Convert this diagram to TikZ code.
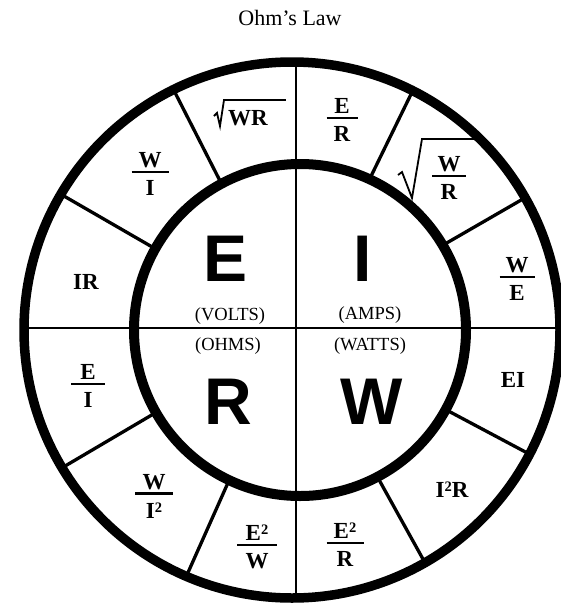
\documentclass[tikz,border=0pt]{standalone}
\usepackage{fontspec}
\setmainfont{Liberation Serif}
\newfontfamily\bigsans{Liberation Sans}
\newcommand\frc[3]{\vbox{\offinterlineskip\halign{\hfil##\hfil\cr#2\cr\noalign{\kern3pt}\rule{#1pt}{2.5pt}\cr\noalign{\kern7.5pt}#3\cr}}}
\newcommand\lblfont{\fontsize{23}{27}\selectfont\bfseries}
\newcommand\sqr{\raisebox{6pt}{\fontsize{14.5}{15}\selectfont 2}}
\begin{document}
\begin{tikzpicture}[x=1pt,y=-1pt,
  lab/.style={inner sep=0pt,font=\lblfont},
  big/.style={inner sep=0pt,font=\bigsans\fontsize{66}{70}\selectfont\bfseries},
  unit/.style={inner sep=0pt,anchor=base,font=\fontsize{18.5}{22}\selectfont},
  ring/.style={line width=9.5pt},
  divider/.style={line width=3.3pt},
  cross/.style={line width=2.2pt},
  radical/.style={line width=1.8pt,line join=miter},
  radbar/.style={line width=2.5pt}]
\useasboundingbox (0,0) rectangle (561,606);
\coordinate (O) at (296,330);
\coordinate (Cout) at (292,330);
\coordinate (Cin) at (300,330);
\begin{scope}
  \clip (Cout) circle [radius=268pt];
  \foreach \a in {64,30,-28,-61,246,210.5,150,117}
    \draw[divider] ([shift={(\a:120pt)}]O) -- ([shift={(\a:300pt)}]O);
  \fill[white] (Cin) circle [radius=166pt];
  \draw[cross] (296,0) -- (296,606);
  \draw[cross] (0,328) -- (561,328);
\end{scope}
\draw[ring] (Cout) circle [radius=268pt];
\draw[ring,line width=10pt] (Cin) circle [radius=166pt];
% title
\node[inner sep=0pt,anchor=base,font=\fontsize{22}{26}\selectfont] (title) at (290,25) {Ohm’s Law};
% big letters
\node[big] (E) at (226,259) {E};
\node[big] (I) at (363,259) {I};
\node[big] (R) at (228,402) {R};
\node[big] (W) at (372,402) {W};
% units
\node[unit] (volts) at (230,320) {(VOLTS)};
\node[unit] (amps) at (370,319) {(AMPS)};
\node[unit] (ohms) at (228,350) {(OHMS)};
\node[unit] (watts) at (370,350) {(WATTS)};
% ring labels
\node[lab] (sqrtwr) at (248,118) {WR};
\draw[radical] (214,116) -- (217,113) -- (220,126) -- (224,100);
\draw[radbar] (223,100) -- (286,100);
\node[lab] (er) at (342,120) {\frc{31}{E}{R}};
\node[lab] (swr) at (449,178) {\frc{34}{W}{R}};
\draw[radical] (398,175) -- (402,172) -- (412,198) -- (422,139);
\draw[radbar] (421,139) -- (474,139);
\node[lab] (we) at (517,279) {\frc{35}{W}{E}};
\node[lab] (ei) at (513,380) {EI};
\node[lab] (i2r) at (452,490) {I\sqr R};
\node[lab] (e2r) at (345,545) {\frc{37}{E\sqr}{R}};
\node[lab] (e2w) at (257,547) {\frc{40}{E\sqr}{W}};
\node[lab] (wi2) at (154,496) {\frc{38}{W}{I\sqr}};
\node[lab] (eovi) at (88,386) {\frc{34}{E}{I}};
\node[lab] (ir) at (86,282) {IR};
\node[lab] (wi) at (150,174) {\frc{37}{W}{I}};
\end{tikzpicture}
\end{document}
